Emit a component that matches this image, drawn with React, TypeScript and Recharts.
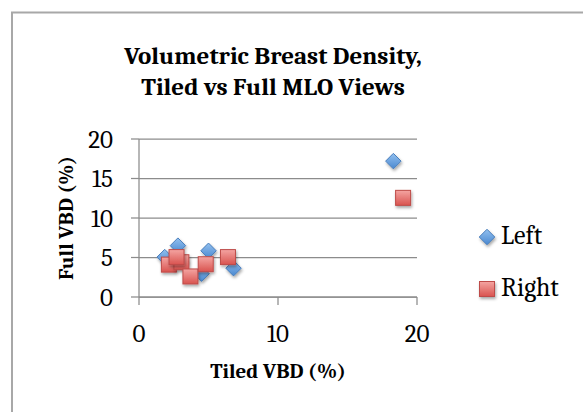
import React from "react";
import { ScatterChart, Scatter, XAxis, YAxis, CartesianGrid } from "recharts";

const titleLines = ["Volumetric Breast Density,", "Tiled vs Full MLO Views"];
const seriesNames = ["Left", "Right"];
const xTicks = [0, 10, 20];
const yTicks = [0, 5, 10, 15, 20];

const leftTiled = [18.3, 2.8, 1.85, 5.0, 6.8, 4.5, 3.0];
const leftFull = [17.2, 6.5, 5.05, 5.85, 3.65, 2.95, 4.5];
const rightTiled = [19.0, 2.15, 3.05, 2.7, 3.7, 4.8, 6.4];
const rightFull = [12.55, 4.1, 4.4, 5.05, 2.6, 4.15, 5.05];

const leftData = leftTiled.map((x, i) => ({ x, y: leftFull[i] }));
const rightData = rightTiled.map((x, i) => ({ x, y: rightFull[i] }));

const FONT = "Cambria, 'Liberation Serif', serif";
const AXIS = "#8c8c8c";

const Diamond = (p: any) => {
  const { cx, cy } = p;
  const r = 7.75;
  return (
    <polygon
      points={`${cx},${cy - r} ${cx + r},${cy} ${cx},${cy + r} ${cx - r},${cy}`}
      fill="url(#gBlue)"
      stroke="#4A7EBB"
      strokeWidth={1}
      filter="url(#mShadow)"
    />
  );
};

const Square = (p: any) => {
  const { cx, cy } = p;
  const s = 15;
  return (
    <rect
      x={cx - s / 2}
      y={cy - s / 2}
      width={s}
      height={s}
      fill="url(#gRed)"
      stroke="#BE4B48"
      strokeWidth={1}
      filter="url(#mShadow)"
    />
  );
};

export default function App() {
  return (
    <div
      style={{
        position: "absolute",
        left: 0,
        top: 0,
        width: 583,
        height: 412,
        background: "#fff",
        fontFamily: FONT,
        overflow: "hidden",
      }}
    >
      <svg width={583} height={412} style={{ position: "absolute", left: 0, top: 0 }}>
        <defs>
          <linearGradient id="gBlue" x1="0" y1="0" x2="0" y2="1">
            <stop offset="0%" stopColor="#92C0EF" />
            <stop offset="100%" stopColor="#4A88D0" />
          </linearGradient>
          <linearGradient id="gRed" x1="0" y1="0" x2="0" y2="1">
            <stop offset="0%" stopColor="#F4A5A2" />
            <stop offset="100%" stopColor="#D9534F" />
          </linearGradient>
          <filter id="mShadow" x="-50%" y="-50%" width="200%" height="200%">
            <feDropShadow dx="1" dy="2" stdDeviation="1.5" floodColor="#000" floodOpacity="0.35" />
          </filter>
        </defs>
        <polyline points="12,412 12,12.5 583,12.5" fill="none" stroke="#a8a8a8" strokeWidth={2} />
      </svg>

      <div
        style={{
          position: "absolute",
          left: 0,
          width: 546,
          top: 40,
          textAlign: "center",
          fontSize: 25,
          fontWeight: "bold",
          lineHeight: "31px",
          color: "#000",
        }}
      >
        {titleLines.map((t) => (
          <div key={t}>{t}</div>
        ))}
      </div>

      <div style={{ position: "absolute", left: 0, top: 0 }}>
        <ScatterChart width={583} height={412} margin={{ top: 139, right: 166, bottom: 75, left: 0 }}>
          <CartesianGrid vertical={false} stroke={AXIS} strokeWidth={1.25} />
          <XAxis
            type="number"
            dataKey="x"
            domain={[0, 20]}
            ticks={xTicks}
            height={40}
            tickSize={8}
            tickMargin={19}
            stroke={AXIS}
            strokeWidth={1.25}
            tick={{ fontSize: 25, fill: "#000", fontFamily: FONT }}
          />
          <YAxis
            type="number"
            dataKey="y"
            domain={[0, 20]}
            ticks={yTicks}
            width={139}
            tickSize={8}
            tickMargin={18}
            stroke={AXIS}
            strokeWidth={1.25}
            tick={{ fontSize: 25, fill: "#000", fontFamily: FONT }}
          />
          <Scatter name={seriesNames[0]} data={leftData} shape={Diamond} isAnimationActive={false} />
          <Scatter name={seriesNames[1]} data={rightData} shape={Square} isAnimationActive={false} />
        </ScatterChart>
      </div>

      <div
        style={{
          position: "absolute",
          left: 178,
          width: 200,
          top: 357,
          textAlign: "center",
          fontSize: 21,
          fontWeight: "bold",
          lineHeight: "28px",
        }}
      >
        Tiled VBD (%)
      </div>

      <div
        style={{
          position: "absolute",
          left: 66 - 100,
          top: 218 - 14,
          width: 200,
          height: 28,
          textAlign: "center",
          fontSize: 21,
          fontWeight: "bold",
          lineHeight: "28px",
          transform: "rotate(-90deg)",
        }}
      >
        Full VBD (%)
      </div>

      <svg width={30} height={120} style={{ position: "absolute", left: 473, top: 222 }}>
        <Diamond cx={14} cy={15} />
        <Square cx={14} cy={67} />
      </svg>
      <div style={{ position: "absolute", left: 501, top: 221, fontSize: 26, lineHeight: "30px" }}>
        {seriesNames[0]}
      </div>
      <div style={{ position: "absolute", left: 501, top: 273, fontSize: 26, lineHeight: "30px" }}>
        {seriesNames[1]}
      </div>
    </div>
  );
}
